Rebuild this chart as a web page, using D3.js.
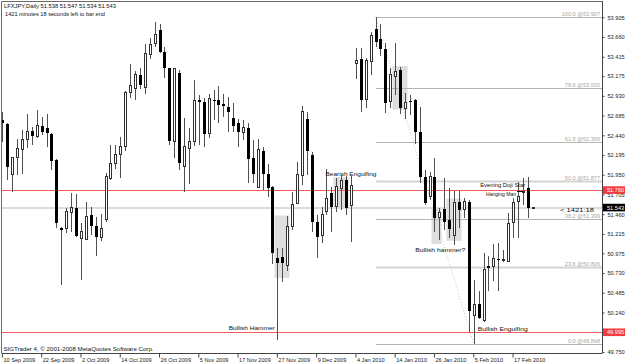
<!DOCTYPE html>
<html>
<head>
<meta charset="utf-8">
<script src="https://cdn.jsdelivr.net/npm/d3@7"></script>
<style>
  body { margin: 0; background: #fff; }
  svg text { font-family: "Liberation Sans", Arial, sans-serif; }
</style>
</head>
<body>
<div id="graph"></div>
<script>
const width = 625, height = 364;

// daily bars, LFXJPY
const opens = [52.626,52.577,51.956,52.162,52.270,52.394,52.493,52.423,52.559,52.527,
  52.452,52.133,51.293,51.286,51.484,51.534,51.161,51.149,51.451,51.318,
  51.169,51.401,51.906,52.084,52.204,52.299,52.974,53.015,53.189,53.031,
  53.446,53.582,53.747,53.471,53.272,52.361,53.210,52.050,52.279,52.361,
  52.878,52.857,52.465,52.878,52.878,52.825,52.795,52.659,52.589,52.477,
  52.534,52.154,51.790,52.245,51.956,51.802,50.920,50.933,50.821,51.305,
  51.596,51.938,52.642,52.196,51.360,51.202,51.492,51.720,51.554,51.782,
  51.885,51.566,53.334,53.384,52.887,53.354,53.756,53.632,53.508,52.857,
  53.168,53.251,52.775,52.866,52.878,52.485,51.926,51.678,51.926,51.417,
  51.521,51.389,51.202,51.608,51.525,51.616,50.209,50.342,50.135,50.821,
  50.809,50.901,50.899,50.879,51.360,51.616,51.740,51.790,51.538];
const highs = [52.733,52.590,52.174,52.394,52.506,52.708,52.547,52.754,52.671,52.708,
  52.465,52.146,51.305,51.534,51.720,51.708,51.348,51.608,51.546,51.430,
  51.459,51.968,52.320,52.320,52.423,52.990,53.322,53.238,53.272,53.570,
  53.644,53.843,53.818,53.540,53.279,53.279,53.251,52.659,52.534,53.127,
  52.940,52.907,52.949,53.002,53.056,52.949,52.919,52.837,52.642,52.630,
  52.589,52.382,52.394,52.299,52.080,51.814,51.037,51.037,51.438,51.740,
  52.112,52.808,52.733,52.236,51.451,51.554,52.022,51.802,51.906,51.947,
  51.938,51.938,53.520,53.520,53.396,53.726,53.907,53.822,53.582,53.272,
  53.582,53.292,52.961,52.940,52.885,52.795,52.009,51.988,52.154,51.541,
  51.914,51.782,51.749,51.749,51.665,51.637,50.644,50.507,50.975,50.945,
  51.087,51.099,51.016,51.472,51.658,51.857,51.910,51.926,51.547];
const lows = [52.361,51.885,51.740,51.947,51.956,52.279,52.320,52.410,52.444,52.299,
  52.009,51.286,50.582,51.223,51.243,51.181,50.644,51.140,51.202,50.945,
  51.128,51.367,51.885,52.022,51.906,52.245,52.907,52.878,53.015,52.949,
  53.387,53.540,53.458,53.155,52.320,52.154,52.009,51.740,51.832,52.307,
  52.320,52.299,52.403,52.630,52.589,52.671,52.485,52.485,52.299,52.382,
  51.844,51.844,51.782,51.761,51.678,50.839,49.905,50.623,50.755,51.264,
  51.583,51.823,51.947,51.243,50.913,51.099,51.451,51.243,51.492,51.513,
  51.451,51.112,53.135,52.733,52.775,53.189,53.540,53.425,52.721,52.775,
  52.940,52.705,52.642,52.692,52.328,51.844,51.575,51.637,51.243,51.140,
  51.264,51.169,51.078,51.286,51.417,50.002,49.848,50.159,50.119,50.507,
  50.631,50.507,50.863,50.871,51.169,51.169,51.575,51.417,51.534];
const closes = [52.589,52.050,52.162,52.279,52.394,52.493,52.435,52.568,52.485,52.465,
  52.121,51.348,51.264,51.492,51.541,51.194,51.252,51.430,51.318,51.174,
  51.286,51.926,52.092,52.204,52.299,52.974,53.056,53.189,53.065,53.458,
  53.570,53.694,53.471,53.279,52.369,53.272,52.092,52.299,52.369,52.866,
  52.850,52.452,52.899,52.866,52.816,52.808,52.726,52.559,52.485,52.534,
  52.146,51.956,52.258,51.956,51.790,50.975,50.851,50.851,51.314,51.583,
  51.956,52.733,52.245,51.360,51.181,51.451,51.658,51.554,51.802,51.885,
  51.534,51.814,53.363,52.878,53.363,53.685,53.602,53.508,52.837,53.189,
  53.230,52.775,52.850,52.862,52.485,51.926,51.596,51.926,51.410,51.484,
  51.367,51.277,51.608,51.513,51.624,50.259,50.342,50.176,50.780,50.796,
  50.913,50.896,50.904,51.348,51.608,51.678,51.745,51.543,51.543];

const dateLabels = ["10 Sep 2009","22 Sep 2009","2 Oct 2009","14 Oct 2009","26 Oct 2009",
  "5 Nov 2009","17 Nov 2009","27 Nov 2009","9 Dec 2009","4 Jan 2010","14 Jan 2010",
  "26 Jan 2010","5 Feb 2010","17 Feb 2010"];
const dateBars = [0,8,16,24,32,40,48,56,64,72,80,88,96,104];

const priceTicks = [53.905,53.660,53.415,53.175,52.930,52.685,52.440,52.195,51.950,
  51.705,51.460,51.215,50.975,50.730,50.485,50.240,49.995,49.750];

const fibNames = ["100.0","78.6","61.8","50.0","38.2","23.6","0.0"];
const fibPrices = [53.907,53.030,52.356,51.877,51.399,50.806,49.848];
const fibFrom = 76, fibTo = 96;

const redLevels = [51.760, 49.995];
const bidPrice = 51.543;

// pattern boxes: [first bar, last bar, top price, bottom price]
const boxes = [
  [56, 58, 51.445, 50.670],
  [68, 70, 51.920, 51.530],
  [80, 82, 53.300, 52.760],
  [88, 89, 51.525, 51.090],
  [91, 93, 51.655, 51.130]
];

const notes = [
  {text: "Bearish Engulfing", bar: 65.8, price: 51.930, w: 51},
  {text: "Evening Doji Star", bar: 97.3, price: 51.800, w: 45},
  {text: "Hanging Man", bar: 98.5, price: 51.690, w: 30},
  {text: "Bullish hammer?", bar: 84.1, price: 50.990, w: 50},
  {text: "Bullish Hammer", bar: 46.1, price: 50.020, w: 46},
  {text: "Bullish Engulfing", bar: 96.8, price: 50.005, w: 50}
];

const svg = d3.select("#graph").append("svg")
  .attr("width", width).attr("height", height);

const x = d3.scaleLinear().domain([0, 108]).range([2.4, 2.4 + 4.91 * 108]);
const y = d3.scaleLinear().domain([49.750, 53.905]).range([352, 17.3]);
const px = (i) => Math.round(x(i));
const py = (p) => Math.round(y(p));
const plotRight = 602, plotBottom = 353;

// pattern boxes
svg.append("g").selectAll("rect").data(boxes).join("rect")
  .attr("x", d => px(d[0]) - 2.5)
  .attr("width", d => px(d[1]) - px(d[0]) + 5)
  .attr("y", d => y(d[2]))
  .attr("height", d => y(d[3]) - y(d[2]))
  .attr("fill", "#dedede");

// bid line
svg.append("line")
  .attr("x1", 2).attr("x2", plotRight)
  .attr("y1", y(bidPrice) + 0.5).attr("y2", y(bidPrice) + 0.5)
  .attr("stroke", "#dcdcdc").attr("stroke-width", 2);

// fibo lines
const fibG = svg.append("g");
fibPrices.forEach((p, k) => {
  const thick = fibNames[k] === "50.0" || fibNames[k] === "23.6";
  fibG.append("line")
    .attr("x1", px(fibFrom)).attr("x2", plotRight)
    .attr("y1", py(p) + 0.5).attr("y2", py(p) + 0.5)
    .attr("stroke", thick ? "#d4d4d4" : "#b4b4b4")
    .attr("stroke-width", thick ? 2 : 1);
  fibG.append("text")
    .attr("x", 600).attr("y", py(p) - 1.5)
    .attr("text-anchor", "end")
    .attr("font-size", 5.6)
    .attr("fill", "#a8a8a8")
    .text(fibNames[k] + " @" + p.toFixed(3));
});
fibG.append("line")
  .attr("x1", x(fibFrom)).attr("y1", y(fibPrices[0]))
  .attr("x2", x(fibTo)).attr("y2", y(fibPrices[6]))
  .attr("stroke", "#c8c8c8").attr("stroke-dasharray", "1,2");

// red levels
svg.append("g").selectAll("line").data(redLevels).join("line")
  .attr("x1", 2).attr("x2", plotRight)
  .attr("y1", d => py(d) + 0.5).attr("y2", d => py(d) + 0.5)
  .attr("stroke", "#f05a5a");

// candles
const bars = d3.range(opens.length);
const candle = svg.append("g").attr("shape-rendering", "crispEdges");
candle.selectAll("line.wick").data(bars).join("line")
  .attr("class", "wick")
  .attr("x1", i => px(i) + 0.5).attr("x2", i => px(i) + 0.5)
  .attr("y1", i => y(highs[i])).attr("y2", i => y(lows[i]))
  .attr("stroke", "#505050");
candle.selectAll("rect.body").data(bars).join("rect")
  .attr("class", "body")
  .attr("x", i => closes[i] >= opens[i] ? px(i) - 0.5 : px(i) - 1)
  .attr("width", i => closes[i] >= opens[i] ? 2 : 3)
  .attr("y", i => y(Math.max(opens[i], closes[i])))
  .attr("height", i => Math.max(1, Math.abs(y(opens[i]) - y(closes[i]))))
  .attr("fill", i => closes[i] >= opens[i] ? "#fff" : "#000")
  .attr("stroke", i => closes[i] >= opens[i] ? "#303030" : "none");

// frame
svg.append("path")
  .attr("d", `M1.5,${plotBottom}V1.5H${plotRight}`)
  .attr("fill", "none").attr("stroke", "#6a6a6a");

// right axis
const yAxis = d3.axisRight(y).tickValues(priceTicks)
  .tickSize(2).tickPadding(3)
  .tickFormat(d3.format(".3f"));
svg.append("g")
  .attr("transform", `translate(${plotRight + 0.5},0)`)
  .call(yAxis)
  .call(g => g.select(".domain").attr("d", `M0,1V${plotBottom}`).attr("stroke", "#444"))
  .call(g => g.selectAll("line").attr("stroke", "#444"))
  .call(g => g.selectAll("text").attr("font-size", 5.6).attr("fill", "#222")
    .attr("font-family", "Liberation Sans, Arial, sans-serif"));

// bottom axis
const xAxis = d3.axisBottom(x).tickValues(dateBars)
  .tickSize(4).tickPadding(1)
  .tickFormat((d, k) => dateLabels[k]);
svg.append("g")
  .attr("transform", `translate(-0.5,${plotBottom + 0.5})`)
  .call(xAxis)
  .call(g => g.select(".domain").attr("d", `M2,0H${plotRight + 1}`).attr("stroke", "#444"))
  .call(g => g.selectAll("line").attr("stroke", "#444"))
  .call(g => g.selectAll("text").attr("font-size", 5.6).attr("fill", "#222")
    .attr("text-anchor", "start").attr("dx", 1).attr("dy", "0.55em")
    .attr("font-family", "Liberation Sans, Arial, sans-serif"));

// price tags
const tag = (price, fill, label) => {
  const g = svg.append("g");
  g.append("rect").attr("x", plotRight + 1).attr("y", y(price) - 3.8)
    .attr("width", 23).attr("height", 7.6).attr("fill", fill);
  g.append("text").attr("x", plotRight + 5).attr("y", y(price) + 2)
    .attr("font-size", 5.6).attr("fill", "#fff").text(label);
};
tag(redLevels[0], "#f03c3c", redLevels[0].toFixed(3));
tag(redLevels[1], "#f03c3c", redLevels[1].toFixed(3));
tag(bidPrice, "#000", bidPrice.toFixed(3));

// notes
svg.append("g").selectAll("text").data(notes).join("text")
  .attr("x", d => x(d.bar)).attr("y", d => y(d.price))
  .attr("font-size", 6).attr("fill", "#111")
  .attr("textLength", d => d.w).attr("lengthAdjust", "spacingAndGlyphs")
  .text(d => d.text);
svg.append("line")
  .attr("x1", 517).attr("x2", 523).attr("y1", 191.5).attr("y2", 191.5)
  .attr("stroke", "#111");

svg.append("text").attr("x", 560).attr("y", y(bidPrice) + 4.6)
  .attr("font-size", 5.6).attr("fill", "#111")
  .attr("textLength", 34).attr("lengthAdjust", "spacingAndGlyphs")
  .text("<  1421:18");

// header and footer
svg.append("text").attr("x", 4).attr("y", 8.2).attr("font-size", 5.8).attr("fill", "#111")
  .attr("textLength", 112).attr("lengthAdjust", "spacingAndGlyphs")
  .text("LFXJPY,Daily  51.538 51.547 51.534 51.543");
svg.append("text").attr("x", 5).attr("y", 15.5).attr("font-size", 5.8).attr("fill", "#111")
  .attr("textLength", 100).attr("lengthAdjust", "spacingAndGlyphs")
  .text("1421 minutes 18 seconds left to bar end");
svg.append("text").attr("x", 3.5).attr("y", 350.5).attr("font-size", 5.8).attr("fill", "#111")
  .attr("textLength", 150).attr("lengthAdjust", "spacingAndGlyphs")
  .text("SIGTrader 4, © 2001-2008 MetaQuotes Software Corp.");
</script>
</body>
</html>
